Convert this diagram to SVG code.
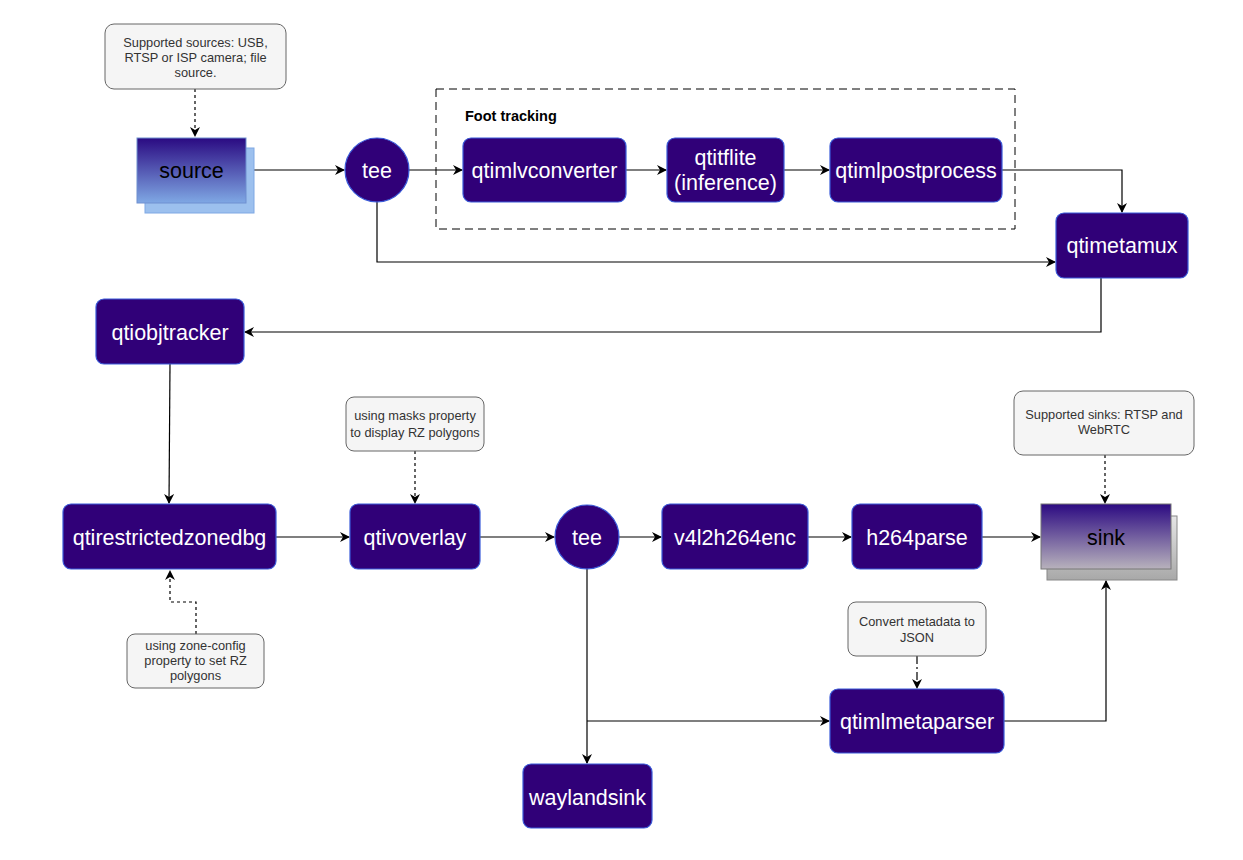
<svg xmlns="http://www.w3.org/2000/svg" width="1243" height="860" viewBox="0 0 1243 860">
<style>
.n{fill:#300078;stroke:#3a5bd9;stroke-width:1.2}
.t{fill:#ffffff;font-family:"Liberation Sans",Arial,sans-serif;font-size:21.5px;text-anchor:middle}
.note{fill:#f5f5f5;stroke:#666666;stroke-width:1}
.nt{fill:#333333;font-family:"Liberation Sans",Arial,sans-serif;font-size:12.8px;text-anchor:middle}
.c{fill:none;stroke:#000000;stroke-width:1.2}
.d{fill:none;stroke:#000000;stroke-width:1.2;stroke-dasharray:3 3}
</style>
<defs>
<marker id="a" viewBox="0 0 10 10" refX="9" refY="5" markerWidth="10" markerHeight="10" markerUnits="userSpaceOnUse" orient="auto">
<path d="M0,0 L10,5 L0,10 L3,5 Z" fill="#000"/>
</marker>
<linearGradient id="gs" x1="0" y1="0" x2="0" y2="1"><stop offset="0" stop-color="#2a0a82"/><stop offset="1" stop-color="#7fa8e4"/></linearGradient>
<linearGradient id="gk" x1="0" y1="0" x2="0" y2="1"><stop offset="0" stop-color="#2c0a82"/><stop offset="1" stop-color="#b8b2bc"/></linearGradient>
<linearGradient id="gk2" x1="0" y1="0" x2="0" y2="1"><stop offset="0" stop-color="#e6e6e6"/><stop offset="1" stop-color="#a8a8a8"/></linearGradient>
</defs>

<g id="connectors">
<path class="d" d="M195,89 V136" marker-end="url(#a)"/>
<path class="c" d="M254,170 H344" marker-end="url(#a)"/>
<path class="c" d="M409,170 H462" marker-end="url(#a)"/>
<path class="c" d="M626,170 H666" marker-end="url(#a)"/>
<path class="c" d="M784,170 H829" marker-end="url(#a)"/>
<path class="c" d="M1002,170 H1122 V212" marker-end="url(#a)"/>
<path class="c" d="M377,202 V262 H1055" marker-end="url(#a)"/>
<path class="c" d="M1101,278 V332 H245" marker-end="url(#a)"/>
<path class="c" d="M170,364 L169,503" marker-end="url(#a)"/>
<path class="c" d="M276,537 H349" marker-end="url(#a)"/>
<path class="d" d="M415,451 V503" marker-end="url(#a)"/>
<path class="c" d="M480,537 H554" marker-end="url(#a)"/>
<path class="c" d="M619,537 H661" marker-end="url(#a)"/>
<path class="c" d="M808,537 H851" marker-end="url(#a)"/>
<path class="c" d="M982,537 H1040" marker-end="url(#a)"/>
<path class="d" d="M1105,455 V503" marker-end="url(#a)"/>
<path class="d" d="M196,634 V602 H170 V571" marker-end="url(#a)"/>
<path class="c" d="M587,569 V763" marker-end="url(#a)"/>
<path class="c" d="M587,721 H829" marker-end="url(#a)"/>
<path class="c" d="M917,656 V688" stroke-dasharray="8 3 2 3" marker-end="url(#a)"/>
</g>

<g id="group-foot-tracking">
<rect x="436" y="89" width="579" height="140" fill="none" stroke="#000" stroke-width="1" stroke-dasharray="8 5"/>
<text x="465" y="121" font-family="'Liberation Sans',Arial,sans-serif" font-size="14.5" font-weight="bold" fill="#000">Foot tracking</text>
</g>

<g id="note-source">
<rect class="note" x="105" y="24" width="181" height="65" rx="9"/>
<text class="nt" x="195.5" y="47">Supported sources: USB,</text>
<text class="nt" x="195.5" y="62">RTSP or ISP camera; file</text>
<text class="nt" x="195.5" y="77">source.</text>
</g>

<g id="source">
<rect x="145" y="148" width="109" height="65" fill="#9cc0ee" stroke="#7fa8e4" stroke-width="1"/>
<rect x="137" y="138" width="109" height="65" fill="url(#gs)" stroke="#6f8fd0" stroke-width="1"/>
<text x="191.5" y="178" font-family="'Liberation Sans',Arial,sans-serif" font-size="21.5" text-anchor="middle" fill="#000">source</text>
</g>

<g id="tee1">
<circle class="n" cx="377" cy="170" r="32"/>
<text class="t" x="377" y="178">tee</text>
</g>

<g id="qtimlvconverter">
<rect class="n" x="463" y="138" width="163" height="64" rx="8"/>
<text class="t" x="544.5" y="178">qtimlvconverter</text>
</g>

<g id="qtitflite">
<rect class="n" x="667" y="138" width="117" height="64" rx="8"/>
<text class="t" x="725.5" y="165">qtitflite</text>
<text class="t" x="725.5" y="190">(inference)</text>
</g>

<g id="qtimlpostprocess">
<rect class="n" x="830" y="138" width="172" height="64" rx="8"/>
<text class="t" x="916" y="178">qtimlpostprocess</text>
</g>

<g id="qtimetamux">
<rect class="n" x="1056" y="213" width="132" height="65" rx="8"/>
<text class="t" x="1122" y="253">qtimetamux</text>
</g>

<g id="qtiobjtracker">
<rect class="n" x="96" y="299" width="148" height="65" rx="8"/>
<text class="t" x="170" y="340">qtiobjtracker</text>
</g>

<g id="qtirestrictedzonedbg">
<rect class="n" x="63" y="504" width="213" height="65" rx="8"/>
<text class="t" x="169.5" y="545">qtirestrictedzonedbg</text>
</g>

<g id="note-zone">
<rect class="note" x="127" y="634" width="137" height="54" rx="8"/>
<text class="nt" x="195.5" y="650">using zone-config</text>
<text class="nt" x="195.5" y="665">property to set RZ</text>
<text class="nt" x="195.5" y="680">polygons</text>
</g>

<g id="note-masks">
<rect class="note" x="346" y="397" width="138" height="54" rx="8"/>
<text class="nt" x="415" y="420">using masks property</text>
<text class="nt" x="415" y="437">to display RZ polygons</text>
</g>

<g id="qtivoverlay">
<rect class="n" x="350" y="504" width="130" height="65" rx="8"/>
<text class="t" x="415" y="545">qtivoverlay</text>
</g>

<g id="tee2">
<circle class="n" cx="587" cy="537" r="32"/>
<text class="t" x="587" y="545">tee</text>
</g>

<g id="v4l2h264enc">
<rect class="n" x="662" y="504" width="146" height="65" rx="8"/>
<text class="t" x="735" y="545">v4l2h264enc</text>
</g>

<g id="h264parse">
<rect class="n" x="852" y="504" width="130" height="65" rx="8"/>
<text class="t" x="917" y="545">h264parse</text>
</g>

<g id="note-sink">
<rect class="note" x="1014" y="391" width="180" height="64" rx="9"/>
<text class="nt" x="1104" y="419">Supported sinks: RTSP and</text>
<text class="nt" x="1104" y="434">WebRTC</text>
</g>

<g id="sink">
<rect x="1047" y="516" width="130" height="64" fill="url(#gk2)" stroke="#888" stroke-width="1"/>
<rect x="1041" y="504" width="130" height="65" fill="url(#gk)" stroke="#777" stroke-width="1"/>
<text x="1106" y="545" font-family="'Liberation Sans',Arial,sans-serif" font-size="21.5" text-anchor="middle" fill="#000">sink</text>
</g>

<g id="connector-to-sink">
<path class="c" d="M1004,721 H1106 V581" marker-end="url(#a)"/>
</g>

<g id="note-json">
<rect class="note" x="848" y="602" width="138" height="54" rx="8"/>
<text class="nt" x="917" y="626">Convert metadata to</text>
<text class="nt" x="917" y="642">JSON</text>
</g>

<g id="qtimlmetaparser">
<rect class="n" x="830" y="689" width="174" height="64" rx="8"/>
<text class="t" x="917" y="729">qtimlmetaparser</text>
</g>

<g id="waylandsink">
<rect class="n" x="523" y="764" width="129" height="64" rx="8"/>
<text class="t" x="587.5" y="805">waylandsink</text>
</g>
</svg>
